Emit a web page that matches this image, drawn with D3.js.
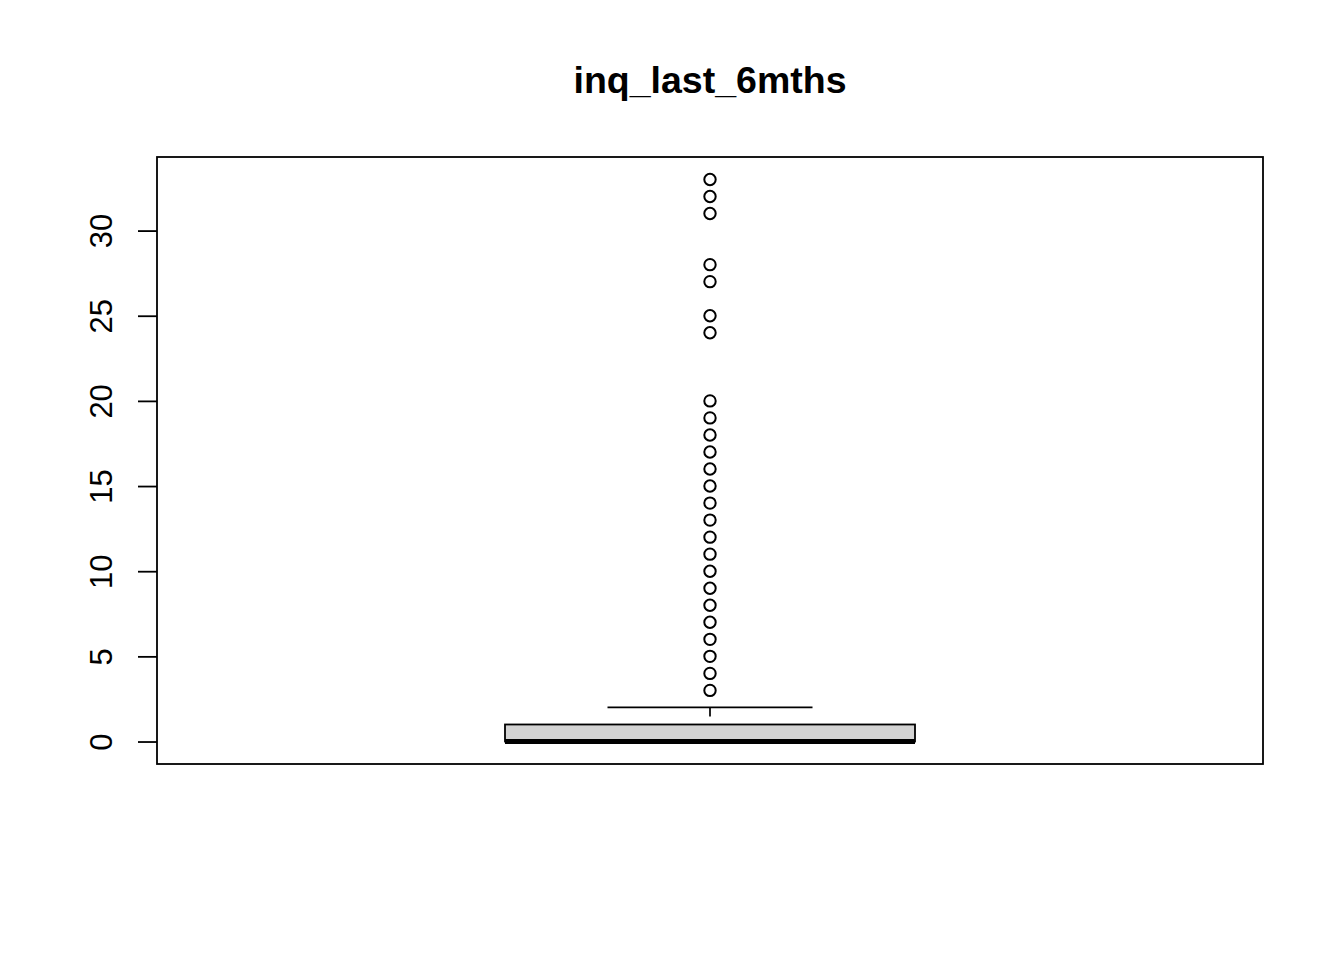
<!DOCTYPE html>
<html><head><meta charset="utf-8">
<script src="https://cdn.jsdelivr.net/npm/d3@7"></script>
<style>body{margin:0;background:#fff}</style>
</head><body>
<svg id="c" width="1344" height="960"></svg>
<script>
const title = "inq_last_6mths";
const categories = ["inq_last_6mths"];
const q1s = [0], medians = [0], q3s = [1], whiskerLow = [0], whiskerHigh = [2];
const outliers = [3,4,5,6,7,8,9,10,11,12,13,14,15,16,17,18,19,20,24,25,27,28,31,32,33];
const yTicks = [0,5,10,15,20,25,30];

const svg = d3.select("#c");
const L = 157, R = 1263, T = 157, B = 764;
const dataMin = 0, dataMax = 33, ext = (dataMax - dataMin) * 0.04;
const y = d3.scaleLinear().domain([dataMin - ext, dataMax + ext]).range([B, T]);
const x = d3.scaleBand().domain(categories).range([L, R]).paddingInner(0).paddingOuter(0);
const font = "Liberation Sans, Arial, sans-serif";

categories.forEach((cat, i) => {
  const cx = x(cat) + x.bandwidth() / 2;
  const hw = 205, sw = 102.5;
  const g = svg.append("g");
  g.append("line").attr("x1", cx).attr("x2", cx).attr("y1", y(whiskerHigh[i])).attr("y2", y(q3s[i]))
    .attr("stroke", "#000").attr("stroke-width", 1.7).attr("stroke-dasharray", "9,8");
  g.append("line").attr("x1", cx).attr("x2", cx).attr("y1", y(whiskerLow[i])).attr("y2", y(q1s[i]))
    .attr("stroke", "#000").attr("stroke-width", 1.7).attr("stroke-dasharray", "9,8");
  g.append("line").attr("x1", cx - sw).attr("x2", cx + sw).attr("y1", y(whiskerHigh[i])).attr("y2", y(whiskerHigh[i]))
    .attr("stroke", "#000").attr("stroke-width", 1.7);
  g.append("line").attr("x1", cx - sw).attr("x2", cx + sw).attr("y1", y(whiskerLow[i])).attr("y2", y(whiskerLow[i]))
    .attr("stroke", "#000").attr("stroke-width", 1.7);
  g.append("rect").attr("x", cx - hw).attr("width", 2 * hw)
    .attr("y", y(q3s[i])).attr("height", y(q1s[i]) - y(q3s[i]))
    .attr("fill", "#d3d3d3").attr("stroke", "#000").attr("stroke-width", 1.8);
  g.append("line").attr("x1", cx - hw).attr("x2", cx + hw).attr("y1", y(medians[i])).attr("y2", y(medians[i]))
    .attr("stroke", "#000").attr("stroke-width", 5);
  g.selectAll("circle").data(outliers).join("circle")
    .attr("cx", cx).attr("cy", d => y(d)).attr("r", 5.7)
    .attr("fill", "none").attr("stroke", "#000").attr("stroke-width", 2);
});

svg.append("rect").attr("x", L).attr("y", T).attr("width", R - L).attr("height", B - T)
  .attr("fill", "none").attr("stroke", "#000").attr("stroke-width", 1.8);

const ax = svg.append("g").attr("transform", `translate(${L},0)`)
  .call(d3.axisLeft(y).tickValues(yTicks).tickSize(19).tickPadding(0).tickFormat(d3.format("d")));
ax.select(".domain").remove();
ax.selectAll(".tick line").attr("stroke", "#000").attr("stroke-width", 1.8);
ax.selectAll(".tick text").attr("transform", "rotate(-90)").attr("x", 0).attr("y", -56)
  .attr("dy", "0.36em").attr("text-anchor", "middle")
  .style("font-family", font).style("font-size", "31px").attr("fill", "#000");

svg.append("text").attr("x", (L + R) / 2).attr("y", 93).attr("text-anchor", "middle")
  .style("font-family", font).style("font-weight", "bold").style("font-size", "37.5px").text(title);
</script>
</body></html>
